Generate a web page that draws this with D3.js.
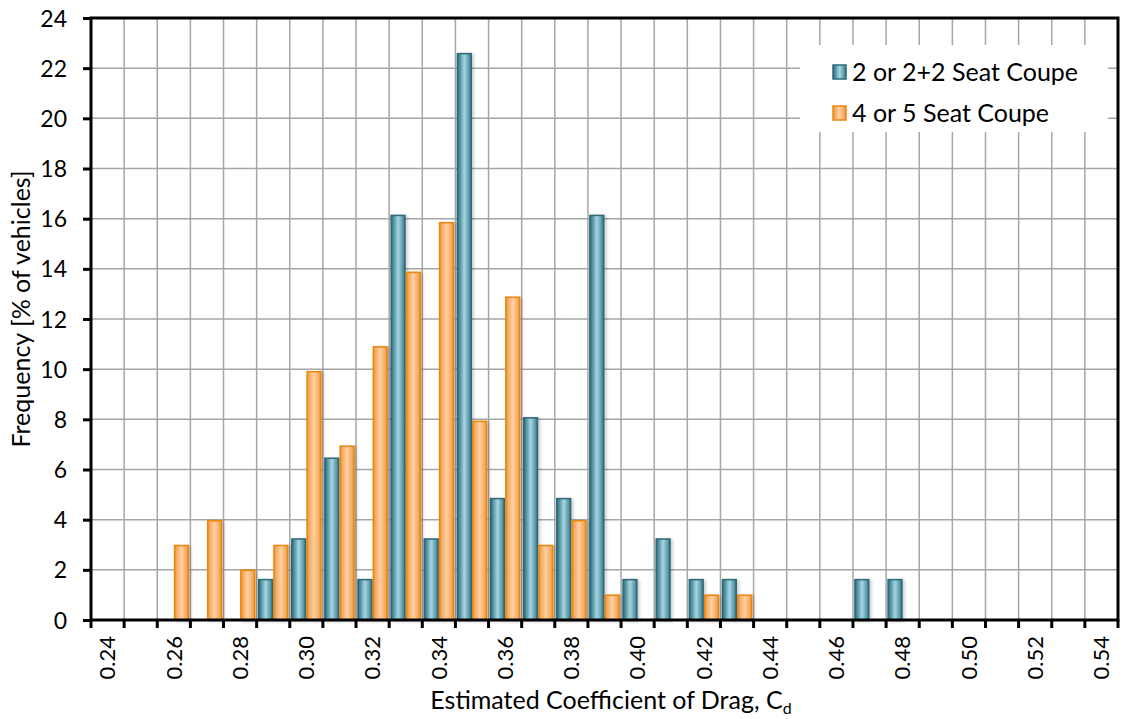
<!DOCTYPE html>
<html><head><meta charset="utf-8">
<script src="https://cdn.jsdelivr.net/npm/d3@7/dist/d3.min.js"></script>
<style>body{margin:0;background:#fff;} text{font-family:Lato, "Open Sans", sans-serif;}</style>
</head><body>
<svg id="chart" width="1127" height="719"></svg>
<script>
const categories = ["0.24","0.25","0.26","0.27","0.28","0.29","0.30","0.31","0.32","0.33","0.34","0.35","0.36","0.37","0.38","0.39","0.40","0.41","0.42","0.43","0.44","0.45","0.46","0.47","0.48","0.49","0.50","0.51","0.52","0.53","0.54"];
const seriesNames = ["2 or 2+2 Seat Coupe","4 or 5 Seat Coupe"];
const twoSeat = [0,0,0,0,0,1.61,3.23,6.45,1.61,16.13,3.23,22.58,4.84,8.06,4.84,16.13,1.61,3.23,1.61,1.61,0,0,0,1.61,1.61,0,0,0,0,0,0];
const fourSeat = [0,0,2.97,3.96,1.98,2.97,9.90,6.93,10.89,13.86,15.84,7.92,12.87,2.97,3.96,0.99,0,0,0.99,0.99,0,0,0,0,0,0,0,0,0,0,0];
const yTicks = [0,2,4,6,8,10,12,14,16,18,20,22,24];
const xLabelShown = ["0.24","0.26","0.28","0.30","0.32","0.34","0.36","0.38","0.40","0.42","0.44","0.46","0.48","0.50","0.52","0.54"];

const svg = d3.select("#chart");
const L = 91, R = 1118, T = 18, B = 620;
const x = d3.scaleBand().domain(categories).range([L, R]).paddingInner(0).paddingOuter(0);
const sub = d3.scaleBand().domain([0,1]).range([0, x.bandwidth()]).paddingInner(0).paddingOuter(0.08);
const y = d3.scaleLinear().domain([0, 24]).range([B, T]);

const defs = svg.append("defs");
function grad(id, stops){
  const g = defs.append("linearGradient").attr("id", id).attr("x1","0").attr("x2","1").attr("y1","0").attr("y2","0");
  stops.forEach(s => g.append("stop").attr("offset", s[0]).attr("stop-color", s[1]));
}
grad("gBlue", [[0,"#2f6e7d"],[0.15,"#4a8a99"],[0.5,"#a6d6e2"],[0.85,"#5b97a6"],[1,"#2f6e7d"]]);
grad("gOrange", [[0,"#f0952e"],[0.2,"#f7b06a"],[0.5,"#fdd0a4"],[0.8,"#f7b06a"],[1,"#f0952e"]]);
const shadow = defs.append("filter").attr("id","sh").attr("x","-20%").attr("y","-5%").attr("width","160%").attr("height","120%");
shadow.append("feDropShadow").attr("dx",2).attr("dy",1).attr("stdDeviation",1.5).attr("flood-color","#000").attr("flood-opacity",0.2);

// grid
const gridG = svg.append("g");
gridG.selectAll("line.h").data(yTicks).join("line")
  .attr("x1", L).attr("x2", R).attr("y1", d => y(d)).attr("y2", d => y(d))
  .attr("stroke", "#a6a6a6").attr("stroke-width", 1.5);
const edges = categories.map(c => x(c)).concat([R]);
gridG.selectAll("line.v").data(edges).join("line")
  .attr("x1", d => d).attr("x2", d => d).attr("y1", T).attr("y2", B)
  .attr("stroke", "#a6a6a6").attr("stroke-width", 1.5);

// bars
const series = [{name: seriesNames[0], vals: twoSeat, fill: "url(#gBlue)", stroke: "#2d6a79"},
                {name: seriesNames[1], vals: fourSeat, fill: "url(#gOrange)", stroke: "#ea8610"}];
series.forEach((s, si) => {
  svg.append("g").selectAll("rect").data(categories.map((c,i)=>({c, v:s.vals[i]})).filter(d => d.v > 0)).join("rect")
    .attr("x", d => x(d.c) + sub(si) + 0.75)
    .attr("width", sub.bandwidth() - 1.5)
    .attr("y", d => y(d.v))
    .attr("height", d => B - y(d.v))
    .attr("fill", s.fill).attr("stroke", s.stroke).attr("stroke-width", 1.5)
    .attr("filter", "url(#sh)");
});

// axes
const yAxis = d3.axisLeft(y).tickValues(yTicks).tickSize(8).tickPadding(16).tickFormat(d3.format("d"));
const gy = svg.append("g").attr("transform", `translate(${L},0)`).call(yAxis);
gy.select(".domain").remove();
gy.selectAll(".tick line").attr("stroke", "#000").attr("stroke-width", 3);
gy.selectAll(".tick text").attr("font-size", 23).attr("fill", "#000").attr("dy", "0.35em");

const xAxis = d3.axisBottom(x).tickValues(xLabelShown).tickSize(0).tickPadding(0);
const gx = svg.append("g").attr("transform", `translate(0,${B})`).call(xAxis);
gx.select(".domain").remove();
gx.selectAll(".tick line").remove();
gx.selectAll(".tick text").attr("font-size", 22).attr("fill", "#000")
  .attr("transform", "rotate(-90)").attr("text-anchor", "end")
  .attr("x", -16).attr("y", 0).attr("dy", "0.35em");
// x tick marks at category edges
svg.append("g").selectAll("line").data(edges).join("line")
  .attr("x1", d => d).attr("x2", d => d).attr("y1", B).attr("y2", B + 8)
  .attr("stroke", "#000").attr("stroke-width", 3);

// frame
svg.append("rect").attr("x", L).attr("y", T).attr("width", R - L).attr("height", B - T)
  .attr("fill", "none").attr("stroke", "#000").attr("stroke-width", 3);

// axis titles
svg.append("text").attr("transform", `translate(30,${(T+B)/2 - 10}) rotate(-90)`)
  .attr("text-anchor", "middle").attr("font-size", 25).attr("fill", "#000")
  .text("Frequency [% of vehicles]");
const xt = svg.append("text").attr("x", 611).attr("y", 709).attr("text-anchor", "middle")
  .attr("font-size", 25).attr("fill", "#000");
xt.append("tspan").text("Estimated Coefficient of Drag, C");
xt.append("tspan").attr("font-size", 16).attr("dy", 5).text("d");

// legend
const lg = svg.append("g");
lg.append("rect").attr("x", 800).attr("y", 45).attr("width", 308).attr("height", 87).attr("fill", "#fff");
series.forEach((s, i) => {
  const cy = 72 + i * 41;
  lg.append("rect").attr("x", 833).attr("y", cy - 7).attr("width", 13).attr("height", 14)
    .attr("fill", s.fill).attr("stroke", s.stroke).attr("stroke-width", 1.5);
  lg.append("text").attr("x", 852).attr("y", cy).attr("dy", "0.35em").attr("font-size", 25).attr("fill", "#000").text(s.name);
});
</script>
</body></html>
